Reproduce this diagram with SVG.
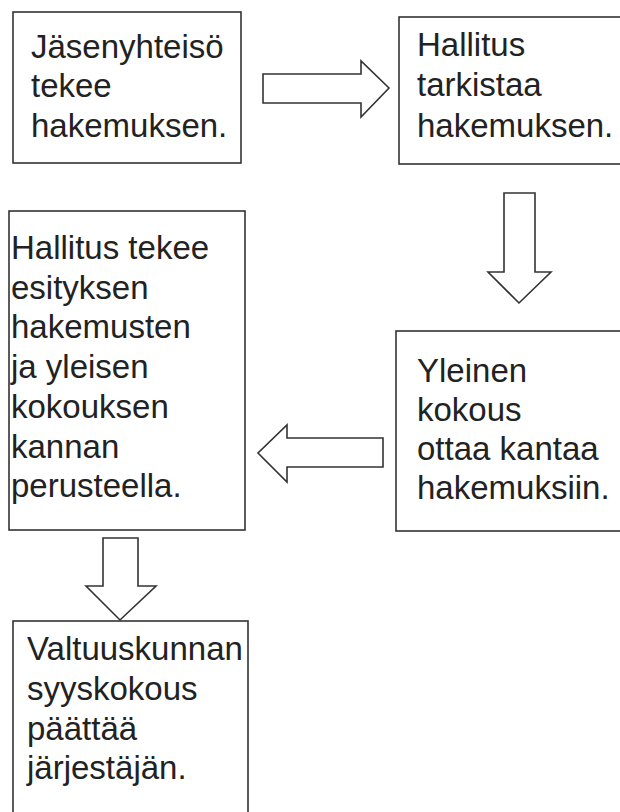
<svg xmlns="http://www.w3.org/2000/svg" width="620" height="812" viewBox="0 0 620 812">
<style>
.box{fill:#fff;stroke:#333;stroke-width:1.6}
.arr{fill:#fff;stroke:#333;stroke-width:1.6;stroke-linejoin:miter}
text{font-family:"Liberation Sans",Arial,sans-serif;font-size:33px;fill:#222}
</style>
<rect width="620" height="812" fill="#fff"/>
<g id="connectors">
<polygon class="arr" points="263,74 361,74 361,61 389,88 361,117 361,103 263,103"/>
<polygon class="arr" points="504,193 535,193 535,272 551,272 519,303 488,272 504,272"/>
<polygon class="arr" points="383,438 287,438 287,425 258,453 287,482 287,467 383,467"/>
<polygon class="arr" points="103,538 138,538 138,586 156,586 120,620 86,586 103,586"/>
</g>
<g id="node1">
<rect class="box" x="13" y="12" width="228" height="151"/>
<text x="31" y="58">Jäsenyhteisö</text>
<text x="31" y="97">tekee</text>
<text x="31" y="137">hakemuksen.</text>
</g>
<g id="node2">
<rect class="box" x="399" y="17" width="230" height="147"/>
<text x="417" y="56">Hallitus</text>
<text x="417" y="96">tarkistaa</text>
<text x="417" y="137">hakemuksen.</text>
</g>
<g id="node3">
<rect class="box" x="9" y="211" width="236" height="319"/>
<text x="11" y="259">Hallitus tekee</text>
<text x="11" y="299">esityksen</text>
<text x="11" y="338">hakemusten</text>
<text x="11" y="378">ja yleisen</text>
<text x="11" y="418">kokouksen</text>
<text x="11" y="458">kannan</text>
<text x="11" y="497">perusteella.</text>
</g>
<g id="node4">
<rect class="box" x="396" y="331" width="233" height="200"/>
<text x="417" y="382">Yleinen</text>
<text x="417" y="421">kokous</text>
<text x="417" y="460">ottaa kantaa</text>
<text x="417" y="499">hakemuksiin.</text>
</g>
<g id="node5">
<rect class="box" x="13" y="621" width="235" height="200"/>
<text x="27" y="660">Valtuuskunnan</text>
<text x="27" y="700">syyskokous</text>
<text x="27" y="740">päättää</text>
<text x="27" y="779">järjestäjän.</text>
</g>
</svg>
